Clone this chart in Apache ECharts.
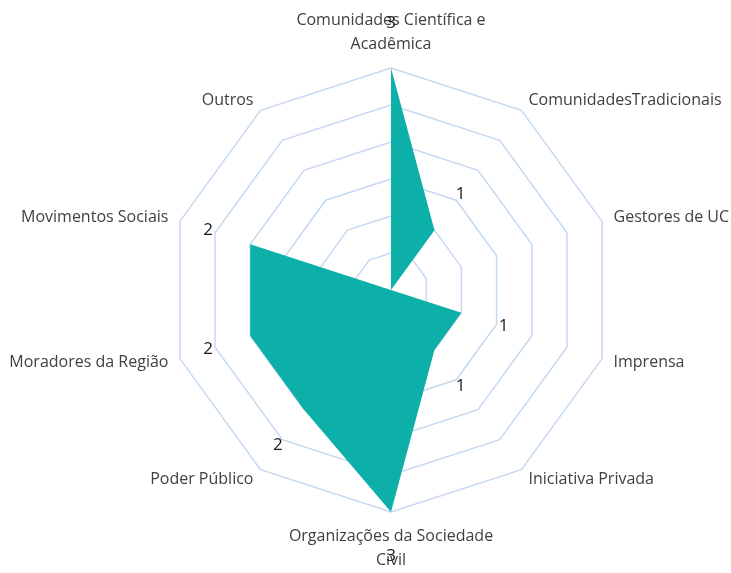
<!DOCTYPE html>
<html>
<head>
<meta charset="utf-8">
<script src="https://cdn.jsdelivr.net/npm/echarts@6/dist/echarts.min.js"></script>
<style>
html, body { margin: 0; padding: 0; background: #fff; }
#chart { width: 731px; height: 573px; }
</style>
</head>
<body>
<div id="chart"></div>
<script>
// categories, clockwise from the top
const categories = [
    'Comunidades Científica e\nAcadêmica',
    'ComunidadesTradicionais',
    'Gestores de UC',
    'Imprensa',
    'Iniciativa Privada',
    'Organizações da Sociedade\nCivil',
    'Poder Público',
    'Moradores da Região',
    'Movimentos Sociais',
    'Outros'
]
const values = [3, 1, 0, 1, 1, 3, 2, 2, 2, 0]
const axisMax = 3
const ringCount = 6

// labels sit a bit outside each vertex (in value units)
const labelShift = 0.6

// echarts lays indicators out counter-clockwise, so keep the first one
// on top and reverse the rest
const order = [0].concat(categories.map((c, i) => i).slice(1).reverse())
const radarNames = order.map(i => categories[i])
const radarValues = order.map(i => values[i])
const labelAnchors = radarValues.map(v => v + labelShift)

const chart = echarts.init(document.getElementById('chart'))
const fill = '#0DB0A8'

const option = {
    backgroundColor: '#fff',
    animation: false,
    radar: {
        center: [391, 290],
        radius: 222,
        startAngle: 90,
        shape: 'polygon',
        splitNumber: ringCount,
        nameGap: 12,
        indicator: radarNames.map(name => ({ name: name, min: 0, max: axisMax })),
        axisName: {
            color: '#404040',
            fontFamily: 'Open Sans',
            fontSize: 16,
            lineHeight: 24
        },
        splitLine: { lineStyle: { color: '#C6D9F1', width: 1.5 } },
        splitArea: { show: false },
        axisLine: { show: false },
        axisTick: { show: false },
        axisLabel: { show: false }
    },
    series: [{
        type: 'radar',
        symbol: 'none',
        lineStyle: { width: 0 },
        areaStyle: { color: fill, opacity: 1 },
        itemStyle: { color: fill },
        data: [{ value: radarValues }]
    }, {
        type: 'radar',
        symbol: 'circle',
        symbolSize: 1,
        itemStyle: { color: 'rgba(0,0,0,0)' },
        lineStyle: { width: 0, opacity: 0 },
        label: {
            show: true,
            position: 'inside',
            color: '#1a1a1a',
            fontFamily: 'Open Sans',
            fontSize: 17,
            formatter: function (p) {
                const v = Math.round((p.value - labelShift) * 100) / 100
                return v === 0 ? '' : String(v)
            }
        },
        data: [{ value: labelAnchors }]
    }]
}
chart.setOption(option)
</script>
</body>
</html>
